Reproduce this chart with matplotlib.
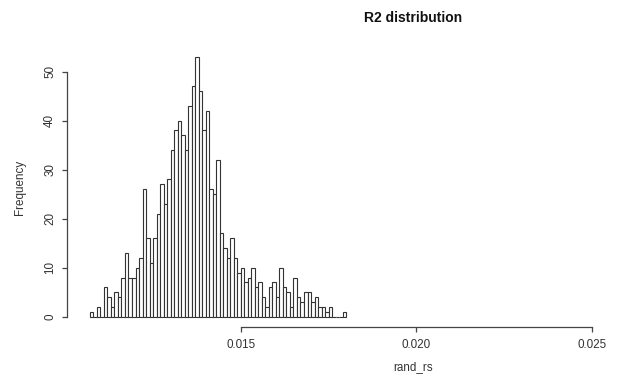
import matplotlib
matplotlib.use('Agg')
import matplotlib.pyplot as plt
import numpy as np

plt.rcParams['font.family'] = ['Liberation Sans', 'DejaVu Sans']

# Histogram data (bins of width 0.0001 starting at 0.0107)
bin_start = 0.0107
bin_width = 0.0001
counts = [1, 0, 2, 0, 6, 4, 2, 5, 4, 8, 13, 8, 8, 10,
          12, 26, 16, 11, 16, 21, 27, 23, 28, 34,
          38, 40, 37, 34, 43, 47, 53, 46, 38, 42,
          26, 25, 32, 17, 14, 12, 16, 12, 9, 10,
          7, 8, 10, 6, 7, 4, 2, 6, 7, 4,
          10, 6, 5, 2, 8, 4, 3, 5, 5, 3,
          4, 2, 2, 1, 2, 0, 0, 0, 1]
x_ticks = [0.015, 0.020, 0.025]
x_tick_labels = ['0.015', '0.020', '0.025']
y_ticks = [0, 10, 20, 30, 40, 50]
title = 'R2 distribution'
xlabel = 'rand_rs'
ylabel = 'Frequency'

W, H = 617, 383
fig = plt.figure(figsize=(W / 100, H / 100), dpi=100)
ax = fig.add_axes([66.7 / W, (H - 327.1) / H, 692.6 / W, 280.5 / H])

edges = bin_start + bin_width * np.arange(len(counts) + 1)
ax.bar(edges[:-1], counts, width=bin_width, align='edge', color='white',
       edgecolor='#333333', linewidth=0.8)

ax.set_xlim(0.01004, 0.02977)
ax.set_ylim(-2.12, 55.12)

for s in ['top', 'right']:
    ax.spines[s].set_visible(False)
ax.spines['bottom'].set_bounds(x_ticks[0], x_ticks[-1])
ax.spines['left'].set_bounds(y_ticks[0], y_ticks[-1])
for s in ['bottom', 'left']:
    ax.spines[s].set_color('#444444')
    ax.spines[s].set_linewidth(0.9)

ax.set_xticks(x_ticks)
ax.set_xticklabels(x_tick_labels)
ax.set_yticks(y_ticks)
ax.tick_params(axis='both', length=3.6, width=0.9, color='#444444',
               labelsize=8.4, labelcolor='#333333')
ax.tick_params(axis='x', pad=5)
ax.tick_params(axis='y', pad=4)
for lab in ax.get_yticklabels():
    lab.set_rotation(90)
    lab.set_va('center')

fig.text(413 / W, 1 - 18 / H, title, ha='center', va='center',
         fontsize=10, fontweight='bold', color='#111111')
fig.text(413 / W, 1 - 367 / H, xlabel, ha='center', va='center',
         fontsize=8.4, color='#333333')
fig.text(20 / W, 1 - 187 / H, ylabel, ha='center', va='center',
         rotation=90, fontsize=8.4, color='#333333')

fig.savefig('out.png', dpi=100)
